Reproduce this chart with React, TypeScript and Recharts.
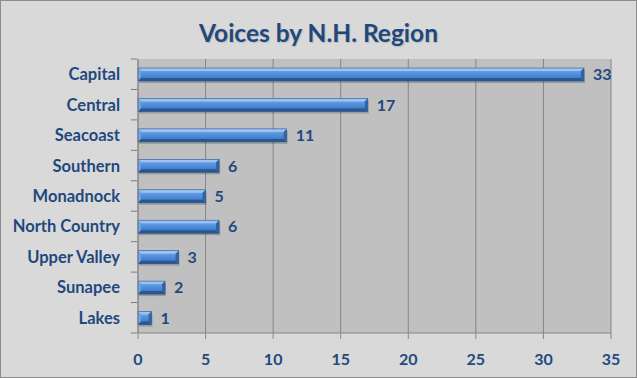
import { BarChart, Bar, XAxis, YAxis, CartesianGrid, LabelList } from 'recharts';

const regions = [
  'Capital',
  'Central',
  'Seacoast',
  'Southern',
  'Monadnock',
  'North Country',
  'Upper Valley',
  'Sunapee',
  'Lakes',
];
const voices = [33, 17, 11, 6, 5, 6, 3, 2, 1];
const xTicks = [0, 5, 10, 15, 20, 25, 30, 35];

const data = regions.map((name, i) => ({ name, value: voices[i] }));

const TEXT = '#1f497d';
const FONT = 'Lato, "Open Sans", sans-serif';
const W = 635;
const H = 376;
const PLOT_TOP = 58;
const PLOT_BOTTOM = 332;
const BAND = (PLOT_BOTTOM - PLOT_TOP) / regions.length;

function CategoryTick(props: any) {
  const { x, y, payload, index } = props;
  const isLast = index === regions.length - 1;
  return (
    <g>
      <line x1={x + 1} x2={x + 7} y1={y - BAND / 2} y2={y - BAND / 2} stroke="#7a7a7a" />
      {isLast && (
        <line x1={x + 1} x2={x + 7} y1={y + BAND / 2} y2={y + BAND / 2} stroke="#7a7a7a" />
      )}
      <text
        x={x - 10}
        y={y}
        dy={6}
        textAnchor="end"
        fill={TEXT}
        fontFamily={FONT}
        fontWeight={700}
        fontSize={16.5}
      >
        {payload.value}
      </text>
    </g>
  );
}

function BevelBar(props: any) {
  const { x, y, width, height } = props;
  if (!width || width <= 0) return null;
  const b = Math.min(3, width / 3);
  const r = x + width;
  const btm = y + height;
  return (
    <g>
      <rect x={x + 1} y={y + 2} width={width} height={height} fill="#000" opacity={0.2} />
      <rect x={x} y={y} width={width} height={height} fill="url(#barGrad)" />
      <polygon points={`${x},${y} ${r},${y} ${r - b},${y + b} ${x + b},${y + b}`} fill="#9cc2f2" />
      <polygon points={`${x},${y} ${x + b},${y + b} ${x + b},${btm - b} ${x},${btm}`} fill="#6fa3e6" />
      <polygon points={`${x},${btm} ${x + b},${btm - b} ${r - b},${btm - b} ${r},${btm}`} fill="#2a5790" />
      <polygon points={`${r},${y} ${r},${btm} ${r - b},${btm - b} ${r - b},${y + b}`} fill="#33649f" />
      <rect x={x} y={y} width={width} height={height} fill="none" stroke="#2a5a96" strokeWidth={0.6} />
    </g>
  );
}

export default function App() {
  return (
    <div
      style={{
        position: 'absolute',
        left: 0,
        top: 0,
        width: W,
        height: H,
        background: '#d9d9d9',
        border: '1px solid #8c8c8c',
      }}
    >
      <div
        style={{
          position: 'absolute',
          left: 0,
          top: 17,
          width: W,
          textAlign: 'center',
          fontFamily: FONT,
          fontWeight: 700,
          fontSize: 24.5,
          color: TEXT,
          textShadow: '1px 1px 1px rgba(0,0,0,0.15)',
        }}
      >
        Voices by N.H. Region
      </div>
      <BarChart
        width={W}
        height={H}
        data={data}
        layout="vertical"
        margin={{ top: PLOT_TOP, right: 25, bottom: 0, left: 0 }}
        barSize={13}
        style={{ position: 'absolute', left: 0, top: 0 }}
      >
        <defs>
          <linearGradient id="barGrad" x1="0" y1="0" x2="0" y2="1">
            <stop offset="0%" stopColor="#7fb0ee" />
            <stop offset="40%" stopColor="#5592df" />
            <stop offset="75%" stopColor="#427ecb" />
            <stop offset="100%" stopColor="#3566a8" />
          </linearGradient>
        </defs>
        <CartesianGrid
          horizontal={false}
          stroke="#868686"
          fill="#c0c0c0"
          fillOpacity={1}
        />
        <XAxis
          type="number"
          domain={[0, 35]}
          ticks={xTicks}
          interval={0}
          height={H - PLOT_BOTTOM}
          stroke="#888"
          tickSize={6}
          tick={{ fill: TEXT, fontFamily: FONT, fontWeight: 700, fontSize: 16, dy: 13 }}
        />
        <YAxis
          type="category"
          dataKey="name"
          width={137}
          stroke="#888"
          tickLine={false}
          tick={<CategoryTick />}
          interval={0}
        />
        <Bar dataKey="value" shape={<BevelBar />} isAnimationActive={false}>
          <LabelList
            dataKey="value"
            position="right"
            offset={9}
            fill={TEXT}
            fontFamily={FONT}
            fontWeight={700}
            fontSize={16}
          />
        </Bar>
      </BarChart>
    </div>
  );
}
